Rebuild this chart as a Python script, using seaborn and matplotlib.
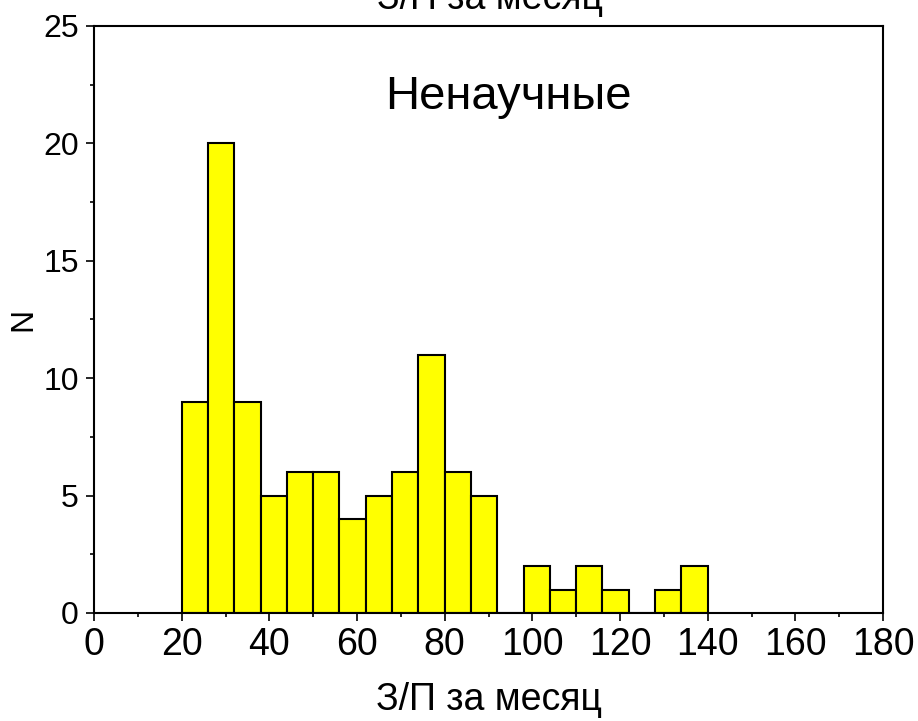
#!/usr/bin/env python3
# Imports
import matplotlib
matplotlib.use('Agg')
import matplotlib.pyplot as plt
import seaborn as sns
import pandas as pd
from matplotlib.ticker import MultipleLocator

# Histogram data (bin width 6, starting at 20)
bin_edges = [20, 26, 32, 38, 44, 50, 56, 62, 68, 74, 80, 86, 92,
             98, 104, 110, 116, 122, 128, 134, 140]
bin_counts = [9, 20, 9, 5, 6, 6, 4, 5, 6, 11, 6, 5,
              0, 2, 1, 2, 1, 0, 1, 2]

x_label = 'З/П за месяц'
y_label = 'N'
panel_label = 'Ненаучные'


def main():
    # Build data frame from bin centres and counts
    hist_df = pd.DataFrame({
        'salary': [(a + b) / 2 for a, b in zip(bin_edges[:-1], bin_edges[1:])],
        'count': bin_counts,
    })

    # Set style, then font
    sns.set_style('ticks')
    plt.rcParams['font.family'] = ['Liberation Sans', 'DejaVu Sans']
    plt.rcParams['text.color'] = 'black'
    plt.rcParams['axes.labelcolor'] = 'black'
    plt.rcParams['xtick.color'] = 'black'
    plt.rcParams['ytick.color'] = 'black'

    fig = plt.figure(figsize=(9.18, 7.21), dpi=100)
    ax = fig.add_axes([0.1024, 0.1498, 0.8595, 0.8142])

    # Histogram
    sns.histplot(
        data=hist_df,
        x='salary',
        weights='count',
        bins=bin_edges,
        color='#FFFF00',
        edgecolor='black',
        linewidth=1.5,
        alpha=1,
        ax=ax
    )

    # Axis limits and ticks
    ax.set_xlim(0, 180)
    ax.set_ylim(0, 25)
    ax.xaxis.set_major_locator(MultipleLocator(20))
    ax.xaxis.set_minor_locator(MultipleLocator(10))
    ax.yaxis.set_major_locator(MultipleLocator(5))
    ax.yaxis.set_minor_locator(MultipleLocator(2.5))
    ax.tick_params(which='major', direction='out', length=6, width=1.2,
                   pad=5, color='black', labelcolor='black')
    ax.tick_params(which='minor', direction='out', length=3, width=1.2,
                   color='black')
    ax.tick_params(axis='x', which='major', labelsize=27, pad=4)
    ax.tick_params(axis='y', which='major', labelsize=23)

    # Full frame
    for spine in ax.spines.values():
        spine.set_visible(True)
        spine.set_linewidth(1.5)
        spine.set_color('black')

    # Labels
    ax.set_xlabel(x_label, fontsize=27, labelpad=14)
    ax.set_ylabel(y_label, fontsize=23, labelpad=3.5)

    # Panel label inside plot
    ax.text(94.6, 21.45, panel_label, fontsize=34, ha='center', va='baseline')

    # Title partially cut off at top of image
    fig.text(0.534, 0.988, x_label, fontsize=27, ha='center', va='baseline')

    fig.savefig('out.png', dpi=100)


if __name__ == "__main__":
    main()
